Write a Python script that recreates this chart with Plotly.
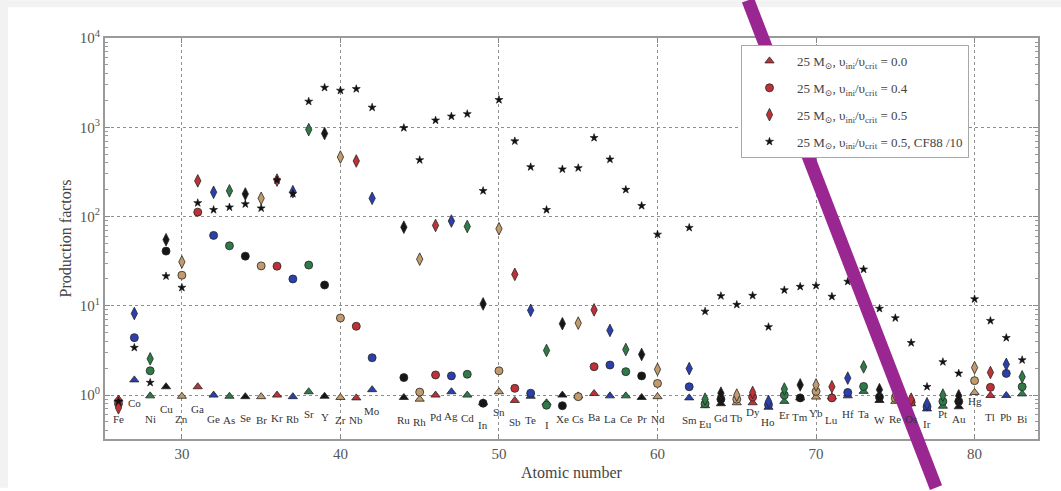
import math
import plotly.graph_objects as go

# Elements and atomic numbers
elements = ["Fe", "Co", "Ni", "Cu", "Zn", "Ga", "Ge", "As", "Se", "Br", "Kr", "Rb", "Sr", "Y", "Zr", "Nb", "Mo",
            "Ru", "Rh", "Pd", "Ag", "Cd", "In", "Sn", "Sb", "Te", "I", "Xe", "Cs", "Ba", "La", "Ce", "Pr", "Nd",
            "Sm", "Eu", "Gd", "Tb", "Dy", "Ho", "Er", "Tm", "Yb", "Lu", "Hf", "Ta", "W", "Re", "Os", "Ir", "Pt",
            "Au", "Hg", "Tl", "Pb", "Bi"]
atomic_number = [26, 27, 28, 29, 30, 31, 32, 33, 34, 35, 36, 37, 38, 39, 40, 41, 42,
                 44, 45, 46, 47, 48, 49, 50, 51, 52, 53, 54, 55, 56, 57, 58, 59, 60,
                 62, 63, 64, 65, 66, 67, 68, 69, 70, 71, 72, 73, 74, 75, 76, 77, 78,
                 79, 80, 81, 82, 83]

# Production factors, 25 Msun models
pf_v00 = [0.9, 1.48, 0.98, 1.24, 0.97, 1.24, 1.0, 0.97, 0.96, 0.96, 1.0, 0.96, 1.09, 0.97, 0.94, 0.93, 1.15,
          0.94, 0.9, 1.0, 1.09, 1.0, 0.82, 1.09, 0.87, 0.97, 0.82, 1.0, 0.98, 1.04, 0.98, 0.98, 0.94, 0.96,
          0.93, 0.76, 0.8, 0.82, 0.82, 0.73, 0.85, 0.93, 0.95, 0.95, 0.98, 1.1, 0.87, 0.85, 0.8, 0.7, 0.75,
          0.74, 1.07, 0.99, 0.99, 1.03]
pf_v04 = [0.8, 4.4, 1.87, 41, 22, 112, 61.5, 47, 36, 28, 27.8, 20, 28.6, 17.1, 7.3, 5.9, 2.62,
          1.57, 1.08, 1.68, 1.64, 1.71, 0.81, 1.87, 1.19, 1.05, 0.77, 0.76, 0.96, 2.08, 2.17, 1.83, 1.64, 1.35,
          1.24, 0.8, 0.9, 0.9, 0.95, 0.78, 1.0, 0.93, 1.1, 0.93, 1.07, 1.25, 0.95, 0.92, 0.83, 0.74, 0.85,
          0.85, 1.45, 1.22, 1.75, 1.24]
pf_v05 = [0.72, 8.2, 2.55, 55, 31, 251, 187, 194, 179, 160, 256, 190, 942, 851, 464, 419, 160,
          76, 33.3, 79.5, 89, 77.4, 10.5, 73, 22.5, 8.9, 3.16, 6.3, 6.4, 9.0, 5.3, 3.24, 2.85, 1.94,
          1.98, 0.9, 1.05, 1.0, 1.07, 0.85, 1.17, 1.3, 1.3, 1.24, 1.55, 2.07, 1.15, 1.0, 0.9, 0.8, 1.0,
          0.98, 2.03, 1.79, 2.21, 1.6]
pf_v05_cf88 = [0.85, 3.4, 1.38, 21.5, 16, 142, 119, 127, 138, 124, 256, 180, 1945, 2780, 2580, 2690, 1667,
               985, 430, 1196, 1325, 1410, 194, 2030, 699, 359, 119, 339, 350, 762, 437, 200, 132, 63,
               75, 8.65, 12.9, 10.3, 13, 5.8, 15, 16.4, 16.8, 12.7, 18.7, 25.6, 9.3, 7.3, 3.85, 1.24, 2.35,
               1.75, 11.9, 6.8, 4.38, 2.47]

# Height of each element label under its markers
label_height = [0.54, 0.81, 0.54, 0.70, 0.54, 0.70, 0.54, 0.53, 0.56, 0.53, 0.56, 0.54, 0.615, 0.565, 0.527, 0.527, 0.66,
                0.52, 0.497, 0.565, 0.58, 0.55, 0.457, 0.64, 0.497, 0.527, 0.457, 0.54, 0.54, 0.565, 0.54, 0.54, 0.54, 0.54,
                0.52, 0.476, 0.56, 0.56, 0.64, 0.497, 0.6, 0.565, 0.63, 0.527, 0.615, 0.615, 0.527, 0.54, 0.54, 0.476, 0.615,
                0.54, 0.85, 0.565, 0.565, 0.54]

# Colour cycles with atomic number
palette = {1: "#be3139", 2: "#2b3fae", 3: "#2e7b47", 4: "#161616", 0: "#c39a6b"}
point_colors = [palette[z % 5] for z in atomic_number]

serif = "Liberation Serif, DejaVu Serif, Times New Roman, serif"
edge = dict(color="#262626", width=0.8)

series = [
    ("25 M<sub>⊙</sub>, υ<sub>ini</sub>/υ<sub>crit</sub> = 0.0", pf_v00, "triangle-up", 8, point_colors, edge),
    ("25 M<sub>⊙</sub>, υ<sub>ini</sub>/υ<sub>crit</sub> = 0.4", pf_v04, "circle", 8, point_colors, edge),
    ("25 M<sub>⊙</sub>, υ<sub>ini</sub>/υ<sub>crit</sub> = 0.5", pf_v05, "diamond-tall", 9, point_colors, edge),
    ("25 M<sub>⊙</sub>, υ<sub>ini</sub>/υ<sub>crit</sub> = 0.5, CF88 /10", pf_v05_cf88, "star", 6, "#111111",
     dict(color="#111111", width=0.6)),
]

fig = go.Figure()
for i, (name, vals, sym, size, col, line) in enumerate(series):
    fig.add_trace(go.Scatter(
        x=atomic_number, y=vals, mode="markers", name=name, legendgroup=f"g{i}",
        marker=dict(symbol=sym, size=size, color=col, line=line),
    ))

annotations = [
    dict(x=z, y=math.log10(h), text=el, showarrow=False, xref="x", yref="y",
         font=dict(family=serif, size=11, color="#333333"))
    for z, el, h in zip(atomic_number, elements, label_height)
]

# Plot area in pixels: left 105, right 1038, top 38, bottom 442
def px_to_paper(px, py):
    return (px - 105) / 933.0, (442 - py) / 404.0

sx0, sy0 = px_to_paper(748, 0)
sx1, sy1 = px_to_paper(936, 491)
bx0, by_top = px_to_paper(0, 0)
bx_right, by_band = px_to_paper(1061, 7)
bx_band, by_bottom = px_to_paper(8, 491)

shapes = [
    dict(type="rect", xref="paper", yref="paper", x0=bx0, x1=bx_right, y0=by_band, y1=by_top,
         fillcolor="#f2f2f2", line=dict(width=0), layer="below"),
    dict(type="rect", xref="paper", yref="paper", x0=bx0, x1=bx_band, y0=by_bottom, y1=by_top,
         fillcolor="#f2f2f2", line=dict(width=0), layer="below"),
    dict(type="line", xref="paper", yref="paper", x0=sx0, y0=sy0, x1=sx1, y1=sy1,
         line=dict(color="#9a2692", width=13), layer="above"),
]

axis_common = dict(
    showline=True, linecolor="#9a9a9a", linewidth=2, mirror="ticks",
    ticks="inside", ticklen=5, tickcolor="#888888",
    showgrid=True, gridcolor="#8f8f8f", griddash="dot", gridwidth=1,
    zeroline=False,
    tickfont=dict(family=serif, size=15, color="#555555"),
)

fig.update_layout(
    width=1061, height=491,
    margin=dict(l=105, r=23, t=38, b=49),
    paper_bgcolor="white", plot_bgcolor="white",
    font=dict(family=serif, color="#444444"),
    xaxis=dict(range=[25.15, 84.0], tickvals=[30, 40, 50, 60, 70, 80],
               title=dict(text="Atomic number", font=dict(family=serif, size=16, color="#444444"), standoff=6),
               **axis_common),
    yaxis=dict(type="log", range=[-0.492, 4.0], tickvals=[1, 10, 100, 1000, 10000],
               ticktext=["10<sup>0</sup>", "10<sup>1</sup>", "10<sup>2</sup>", "10<sup>3</sup>", "10<sup>4</sup>"],
               minor=dict(ticks="inside", ticklen=3, tickcolor="#999999", dtick="D1", showgrid=False),
               title=dict(text="Production factors", font=dict(family=serif, size=16, color="#444444"), standoff=4),
               **axis_common),
    legend=dict(x=px_to_paper(741, 45)[0], y=px_to_paper(741, 45)[1], xanchor="left", yanchor="top",
                bgcolor="white", bordercolor="#a8a8a8", borderwidth=1, tracegroupgap=7,
                font=dict(family=serif, size=13, color="#444444"), itemwidth=45),
    showlegend=True,
    annotations=annotations,
    shapes=shapes,
)

fig.write_html("out.html")
